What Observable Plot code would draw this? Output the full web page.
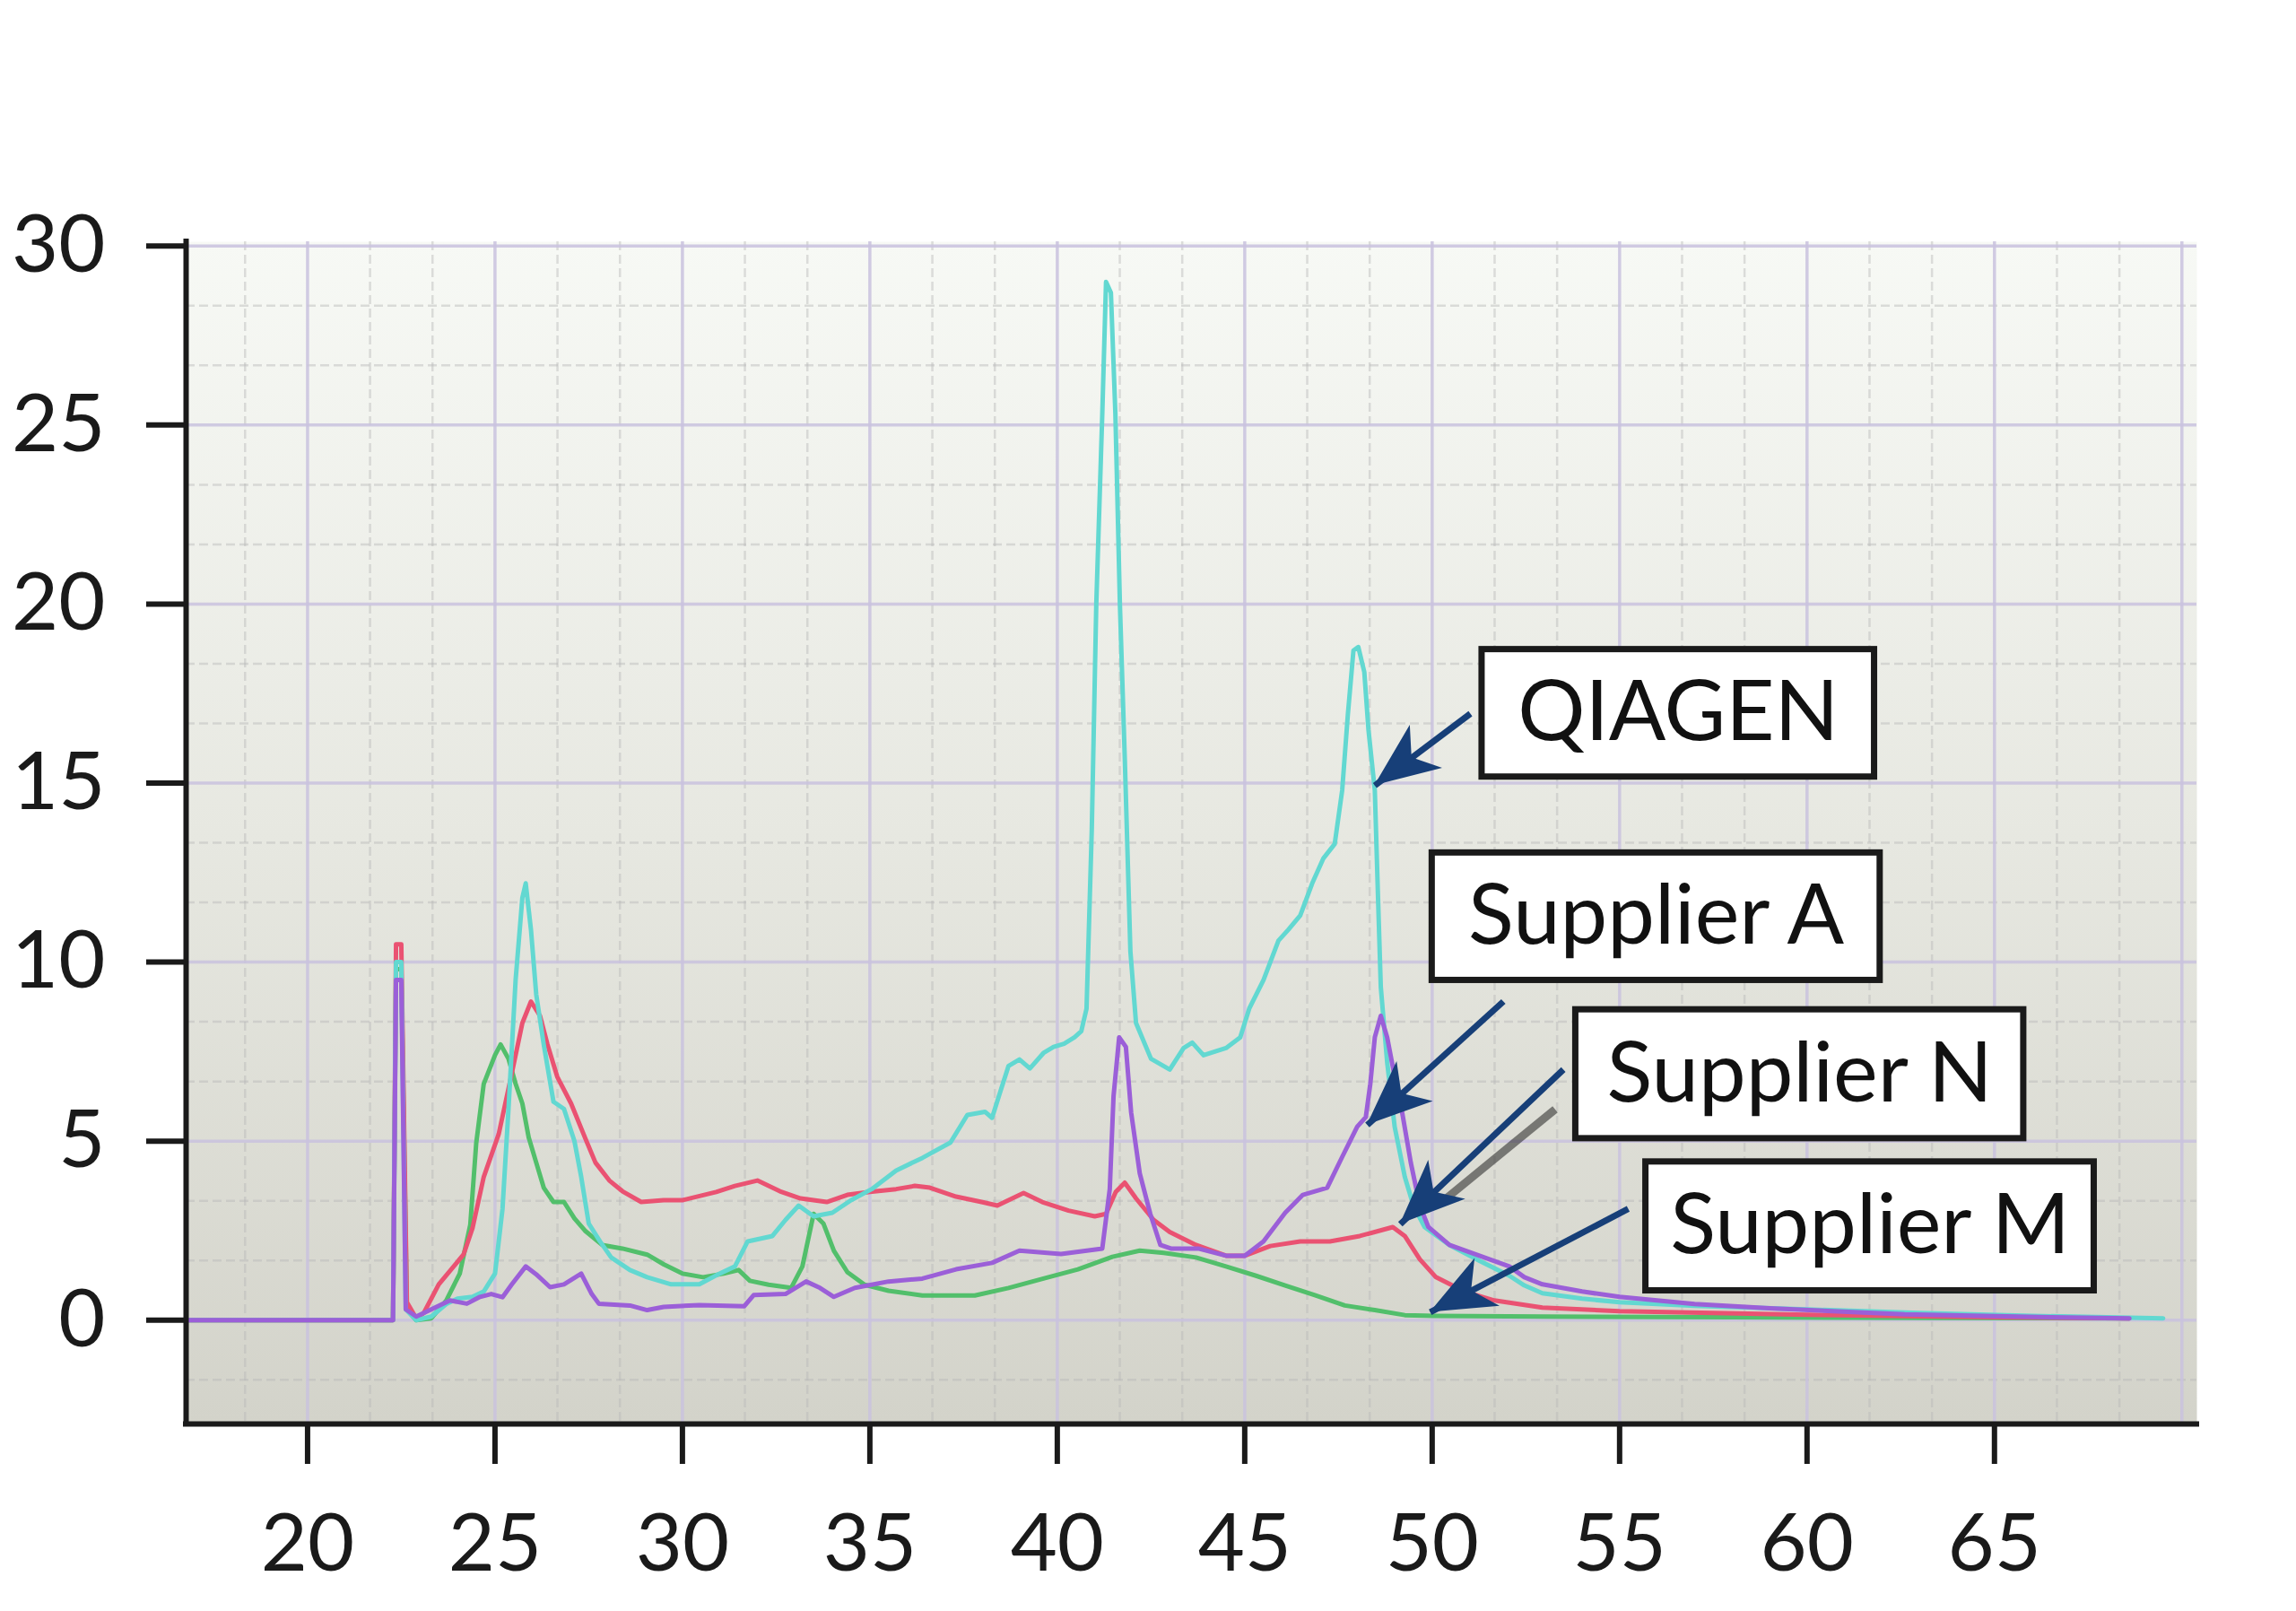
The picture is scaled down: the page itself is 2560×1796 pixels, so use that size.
<!DOCTYPE html>
<html><head><meta charset="utf-8">
<script src="https://cdn.jsdelivr.net/npm/d3@7"></script>
<script src="https://cdn.jsdelivr.net/npm/@observablehq/plot@0.6"></script>
<style>
html,body{margin:0;padding:0;background:#fff;}
#chart svg{display:block;}
</style></head><body><div id="chart"></div>
<script>
// ---- tick values ----
const xTicks = [20, 25, 30, 35, 40, 45, 50, 55, 60, 65];
const yTicks = [0, 5, 10, 15, 20, 25, 30];

// ---- series : [x, y] ----
const qiagen = [[16.8,0],[22.28,0],[22.36,10.0],[22.5,10.0],[22.62,0.3],[22.9,0],[23.3,0.1],[23.7,0.45],[24.0,0.6],[24.4,0.65],[24.7,0.8],[25.0,1.3],[25.2,3.1],[25.36,5.9],[25.55,9.5],[25.73,11.8],[25.82,12.2],[25.96,10.9],[26.1,9.1],[26.3,7.7],[26.56,6.1],[26.84,5.9],[27.12,5.0],[27.3,4.0],[27.5,2.7],[27.8,2.2],[28.1,1.75],[28.6,1.4],[29.06,1.2],[29.7,1.0],[30.45,1.0],[30.9,1.25],[31.4,1.5],[31.74,2.2],[32.4,2.35],[32.75,2.8],[33.1,3.2],[33.5,2.9],[34.0,3.0],[34.5,3.35],[35.05,3.66],[35.7,4.18],[36.4,4.53],[37.15,4.96],[37.6,5.73],[38.07,5.82],[38.26,5.65],[38.44,6.25],[38.7,7.1],[38.99,7.28],[39.27,7.03],[39.63,7.46],[39.9,7.63],[40.18,7.72],[40.46,7.9],[40.64,8.07],[40.78,8.7],[40.92,13.7],[41.04,20],[41.2,25.3],[41.3,29.0],[41.43,28.7],[41.55,25.3],[41.67,20],[41.8,15.7],[41.95,10.3],[42.1,8.3],[42.5,7.3],[43.0,7.0],[43.37,7.6],[43.6,7.75],[43.9,7.4],[44.5,7.6],[44.88,7.9],[45.12,8.7],[45.5,9.5],[45.9,10.6],[46.16,10.9],[46.48,11.3],[46.8,12.2],[47.1,12.9],[47.4,13.3],[47.6,14.8],[47.75,16.9],[47.9,18.7],[48.03,18.8],[48.19,18.1],[48.3,16.5],[48.47,14.8],[48.55,12.0],[48.63,9.3],[48.8,7.2],[49.0,5.4],[49.27,4.0],[49.5,3.2],[49.8,2.6],[50.46,2.1],[51.26,1.66],[52.06,1.24],[52.46,0.97],[52.94,0.75],[54,0.6],[55,0.5],[57,0.4],[60,0.3],[63,0.2],[66,0.12],[69.5,0.05]];

const supplierA = [[16.8,0],[22.28,0],[22.36,9.5],[22.5,9.5],[22.62,0.3],[22.9,0.1],[23.3,0.3],[23.8,0.55],[24.25,0.46],[24.6,0.65],[24.9,0.73],[25.2,0.64],[25.45,1.0],[25.82,1.5],[26.1,1.28],[26.47,0.92],[26.84,1.0],[27.3,1.3],[27.58,0.73],[27.77,0.46],[28.6,0.41],[29.06,0.28],[29.5,0.37],[30.45,0.42],[31.65,0.39],[31.9,0.7],[32.75,0.73],[33.3,1.08],[33.67,0.9],[34.04,0.65],[34.6,0.9],[35.5,1.08],[36.4,1.16],[37.3,1.42],[38.26,1.6],[38.99,1.94],[40.1,1.85],[41.2,2.0],[41.4,3.66],[41.5,6.25],[41.65,7.9],[41.83,7.63],[41.97,5.8],[42.2,4.1],[42.48,2.97],[42.75,2.1],[43.03,2.0],[43.76,2.0],[44.5,1.8],[45.0,1.8],[45.5,2.2],[46.08,3.0],[46.55,3.5],[47.2,3.7],[47.6,4.56],[48.0,5.4],[48.23,5.67],[48.35,6.6],[48.47,7.9],[48.63,8.5],[48.8,7.9],[49.0,6.8],[49.2,5.8],[49.43,4.4],[49.67,3.2],[49.9,2.6],[50.46,2.1],[51.26,1.8],[52.06,1.5],[52.46,1.2],[52.94,1.0],[54,0.8],[55,0.65],[57,0.45],[59,0.33],[62.6,0.16],[66.5,0.08],[68.6,0.05]];

const supplierN = [[16.8,0],[22.28,0],[22.36,10.5],[22.5,10.5],[22.65,0.5],[22.9,0.05],[23.1,0.2],[23.5,1.0],[24.16,1.83],[24.4,2.57],[24.7,4.0],[25.1,5.2],[25.45,6.9],[25.73,8.3],[25.96,8.9],[26.2,8.5],[26.4,7.7],[26.66,6.8],[27.03,6.05],[27.4,5.1],[27.68,4.4],[28.05,3.9],[28.4,3.6],[28.9,3.3],[29.5,3.35],[30.0,3.35],[30.9,3.58],[31.4,3.75],[32.0,3.9],[32.6,3.6],[33.15,3.4],[33.85,3.3],[34.4,3.5],[35.0,3.58],[35.7,3.66],[36.2,3.75],[36.6,3.7],[37.3,3.45],[37.98,3.3],[38.4,3.2],[39.1,3.55],[39.6,3.3],[40.3,3.06],[41.0,2.9],[41.3,2.97],[41.56,3.58],[41.8,3.84],[42.1,3.4],[42.57,2.8],[43.0,2.46],[43.7,2.1],[44.5,1.8],[45.0,1.8],[45.68,2.07],[46.48,2.2],[47.27,2.2],[48.07,2.35],[48.95,2.6],[49.27,2.35],[49.67,1.7],[50.1,1.2],[50.86,0.8],[51.66,0.55],[52.94,0.35],[55,0.25],[60,0.15],[65,0.08],[68.6,0.05]];

const supplierM = [[16.8,0],[22.28,0],[22.36,9.8],[22.5,9.8],[22.65,0.3],[22.9,0],[23.3,0.05],[23.7,0.55],[24.06,1.3],[24.34,2.66],[24.5,4.95],[24.7,6.6],[25.0,7.4],[25.15,7.7],[25.36,7.3],[25.55,6.6],[25.73,6.05],[25.9,5.1],[26.1,4.4],[26.3,3.7],[26.56,3.3],[26.84,3.3],[27.12,2.84],[27.4,2.5],[27.86,2.1],[28.4,2.0],[29.06,1.83],[29.5,1.56],[30.0,1.3],[30.55,1.2],[31.1,1.3],[31.5,1.4],[31.8,1.1],[32.3,0.99],[32.9,0.9],[33.2,1.5],[33.5,2.97],[33.76,2.7],[34.04,1.94],[34.4,1.34],[34.86,0.99],[35.5,0.82],[36.4,0.69],[37.8,0.69],[38.7,0.9],[39.63,1.16],[40.55,1.42],[41.47,1.77],[42.2,1.94],[42.84,1.88],[43.7,1.75],[44.5,1.5],[45.3,1.24],[46.08,0.97],[46.87,0.7],[47.67,0.41],[48.47,0.28],[49.27,0.14],[50.06,0.12],[53,0.1],[58,0.08],[63,0.06],[68.6,0.05]];

const seriesNames = ["Supplier M", "Supplier N", "QIAGEN", "Supplier A"]; // draw order
const seriesPoints = {"QIAGEN": qiagen, "Supplier A": supplierA, "Supplier N": supplierN, "Supplier M": supplierM};
const seriesColors = ["#52bf6b", "#ea5272", "#62d8d1", "#9b5fd8"];

// ---- annotation boxes and arrows (data coordinates) ----
const labelNames = ["QIAGEN", "Supplier A", "Supplier N", "Supplier M"];
const labelBoxX = [[51.33, 61.8], [50.0, 61.95], [53.83, 65.78], [55.7, 67.66]];
const labelBoxY = [[15.17, 18.73], [9.49, 13.05], [5.07, 8.67], [0.82, 4.42]];
const arrowFrom = [[51.02, 16.94], [51.9, 8.9], [53.5, 7.0], [55.23, 3.11]];
const arrowTo = [[48.47, 14.93], [48.27, 5.45], [49.15, 2.68], [49.95, 0.22]];
const shadowFrom = [53.28, 5.89], shadowTo = [50.27, 3.31];

// ---- build tables ----
const rows = seriesNames.flatMap(name => seriesPoints[name].map(([x, y]) => ({series: name, x, y})));
const labels = labelNames.map((name, i) => ({
  name, x1: labelBoxX[i][0], x2: labelBoxX[i][1], y1: labelBoxY[i][0], y2: labelBoxY[i][1],
  ax1: arrowFrom[i][0], ay1: arrowFrom[i][1], ax2: arrowTo[i][0], ay2: arrowTo[i][1]
}));

const xDomain = [16.76, 70.4];
const yDomain = [-2.9, 30.12];
const isMajor = v => Math.abs(v - Math.round(v / 5) * 5) < 0.01;
const minorX = d3.range(15, 71, 5 / 3).filter(v => v > xDomain[0] + 0.05 && v < xDomain[1] && !isMajor(v));
const minorY = d3.range(-5, 31, 5 / 3).filter(v => v > yDomain[0] + 0.05 && v < yDomain[1] && !isMajor(v));
const majorX = d3.range(20, 71, 5);
const majorY = d3.range(0, 31, 5);

const FONT = "Lato, 'Noto Sans', sans-serif";
const ARROW = "#173f78";

const fig = Plot.plot({
  width: 2560,
  height: 1796,
  marginLeft: 207,
  marginRight: 111,
  marginTop: 269,
  marginBottom: 209,
  style: {fontFamily: FONT, fontSize: "90px", color: "#1a1a1a", background: "#ffffff"},
  x: {domain: xDomain, axis: null},
  y: {domain: yDomain, axis: null},
  color: {domain: seriesNames, range: seriesColors},
  marks: [
    Plot.frame({fill: "url(#bgGrad)", stroke: "none"}),
    Plot.ruleX(minorX, {stroke: "#b8b8b8", strokeWidth: 2.5, strokeOpacity: 0.45, strokeDasharray: "10,5"}),
    Plot.ruleY(minorY, {stroke: "#b8b8b8", strokeWidth: 2.5, strokeOpacity: 0.45, strokeDasharray: "10,5"}),
    Plot.ruleX(majorX, {stroke: "#c9c2de", strokeWidth: 3.5, strokeOpacity: 0.85}),
    Plot.ruleY(majorY, {stroke: "#c9c2de", strokeWidth: 3.5, strokeOpacity: 0.85}),
    Plot.line(rows, {x: "x", y: "y", z: "series", stroke: "series", strokeWidth: 5, strokeLinejoin: "round"}),
    Plot.ruleX([xDomain[0]], {stroke: "#1a1a1a", strokeWidth: 6, strokeLinecap: "square"}),
    Plot.ruleY([yDomain[0]], {stroke: "#1a1a1a", strokeWidth: 6, strokeLinecap: "square"}),
    Plot.axisX(xTicks, {ticks: xTicks, tickSize: 45, tickPadding: 55, strokeWidth: 6, stroke: "#1a1a1a", fill: "#1a1a1a", fontSize: 90, label: null, tickFormat: d => String(d)}),
    Plot.axisY(yTicks, {ticks: yTicks, tickSize: 44, tickPadding: 46, strokeWidth: 6, stroke: "#1a1a1a", fill: "#1a1a1a", fontSize: 90, label: null, tickFormat: d => String(d)}),
    Plot.link([0], {x1: () => shadowFrom[0], y1: () => shadowFrom[1], x2: () => shadowTo[0], y2: () => shadowTo[1], stroke: "#222", strokeOpacity: 0.55, strokeWidth: 9}),
    Plot.link(labels, {x1: "ax1", y1: "ay1", x2: "ax2", y2: "ay2", stroke: ARROW, strokeWidth: 7}),
    Plot.rect(labels, {x1: "x1", x2: "x2", y1: "y1", y2: "y2", fill: "white", stroke: "#1a1a1a", strokeWidth: 7}),
    Plot.text(labels, {x: d => (d.x1 + d.x2) / 2, y: d => (d.y1 + d.y2) / 2, text: "name", fontSize: 94, fill: "#111", textAnchor: "middle", lineAnchor: "middle"})
  ]
});

document.getElementById("chart").appendChild(fig);

// gradient background for the plotting frame
const svg = d3.select(fig);
const defs = svg.insert("defs", ":first-child");
const grad = defs.append("linearGradient").attr("id", "bgGrad").attr("x1", 0).attr("y1", 0).attr("x2", 0).attr("y2", 1);
grad.append("stop").attr("offset", "0%").attr("stop-color", "#f7f9f5");
grad.append("stop").attr("offset", "50%").attr("stop-color", "#e7e8e1");
grad.append("stop").attr("offset", "100%").attr("stop-color", "#d3d3ca");

// filled arrowheads, positioned through the plot's own scales
const sx = fig.scale("x"), sy = fig.scale("y");
const heads = svg.append("g").attr("fill", ARROW);
labels.forEach(d => {
  const x1 = sx.apply(d.ax1), y1 = sy.apply(d.ay1), x2 = sx.apply(d.ax2), y2 = sy.apply(d.ay2);
  const len = Math.hypot(x2 - x1, y2 - y1), ux = (x2 - x1) / len, uy = (y2 - y1) / len;
  const px = -uy, py = ux, L = 72, W = 30;
  const bx = x2 - ux * L, by = y2 - uy * L, nx = x2 - ux * L * 0.72, ny = y2 - uy * L * 0.72;
  heads.append("path").attr("d", `M${x2},${y2}L${bx + px * W},${by + py * W}L${nx},${ny}L${bx - px * W},${by - py * W}Z`);
});
</script>
</body></html>
